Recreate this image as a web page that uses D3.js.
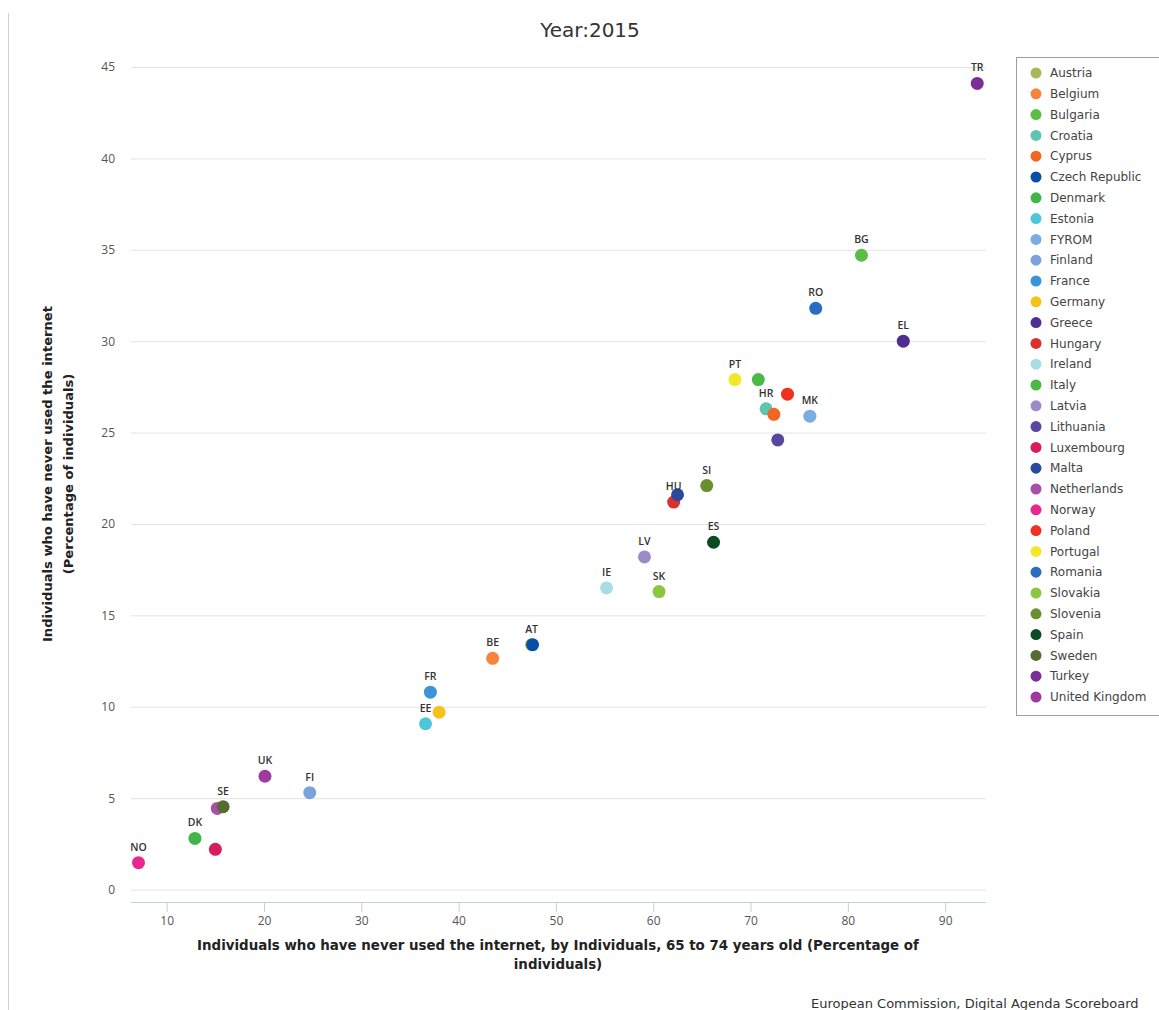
<!DOCTYPE html>
<html>
<head>
<meta charset="utf-8">
<script src="https://cdn.jsdelivr.net/npm/d3@7"></script>
<style>
  html, body { margin: 0; padding: 0; background: #fff; }
  svg { display: block; font-family: "Open Sans", "DejaVu Sans", sans-serif; }
</style>
</head>
<body>
<svg id="chart" width="1159" height="1010"></svg>
<script>
// ---- Data ----
const countries = ["Austria","Belgium","Bulgaria","Croatia","Cyprus","Czech Republic","Denmark","Estonia","FYROM","Finland","France","Germany","Greece","Hungary","Ireland","Italy","Latvia","Lithuania","Luxembourg","Malta","Netherlands","Norway","Poland","Portugal","Romania","Slovakia","Slovenia","Spain","Sweden","Turkey","United Kingdom"];
const codes = ["AT","BE","BG","HR","CY","CZ","DK","EE","MK","FI","FR","DE","EL","HU","IE","IT","LV","LT","LU","MT","NL","NO","PL","PT","RO","SK","SI","ES","SE","TR","UK"];
const xValues = [47.5,43.5,81.4,71.6,72.4,47.6,12.9,36.6,76.1,24.7,37.1,38.0,85.7,62.1,55.2,70.8,59.1,72.8,15.0,62.5,15.2,7.1,73.8,68.4,76.7,60.6,65.5,66.2,15.8,93.3,20.1];
const yValues = [13.4,12.65,34.7,26.3,26.0,13.4,2.8,9.07,25.9,5.3,10.8,9.7,30.0,21.2,16.5,27.9,18.2,24.6,2.2,21.6,4.44,1.47,27.1,27.9,31.8,16.3,22.1,19.0,4.53,44.1,6.2];
const colors = ["#a6b85a","#f5843f","#5bbd45","#5ec4b0","#f26522","#0a4fa6","#42b54a","#4dc6d8","#78aee0","#7ba3db","#3a95d8","#f5c11a","#4b2f91","#d9312b","#a8dde3","#4cb848","#9b8bc8","#5b45a0","#d81d5c","#2c4a9b","#a84fa7","#e8288f","#ef3124","#f2e828","#2a6cc0","#8cc63f","#6b8e2e","#0b4a22","#556b2f","#7d2e96","#9e3a9e"];
const labeledCodes = ["TR","BG","RO","EL","PT","HR","MK","SI","HU","ES","LV","IE","SK","AT","BE","FR","EE","FI","UK","SE","DK","NO"];
const xTicks = [10,20,30,40,50,60,70,80,90];
const yTicks = [0,5,10,15,20,25,30,35,40,45];
const xExtent = [6.33, 94.2];
const yExtent = [-0.68, 45];
const titleText = "Year:2015";
const xTitle = ["Individuals who have never used the internet, by Individuals, 65 to 74 years old (Percentage of", "individuals)"];
const yTitle = ["Individuals who have never used the internet", "(Percentage of individuals)"];
const creditText = "European Commission, Digital Agenda Scoreboard";

// ---- Layout ----
const svg = d3.select("#chart");
const plot = {left: 131, right: 986, top: 67, bottom: 902};
const x = d3.scaleLinear().domain(xExtent).range([plot.left, plot.right]);
const y = d3.scaleLinear().domain(yExtent).range([plot.bottom, plot.top]);

// left border line
svg.append("line").attr("x1", 8.5).attr("x2", 8.5).attr("y1", 13).attr("y2", 1010)
  .attr("stroke", "#d0d0d0").attr("stroke-width", 1);

// title
svg.append("text").attr("x", 590).attr("y", 37).attr("text-anchor", "middle")
  .attr("font-size", 20).attr("fill", "#333").attr("font-family", "'DejaVu Sans', sans-serif")
  .text(titleText);

// y gridlines + labels
const yAxis = d3.axisLeft(y).tickValues(yTicks).tickSize(-(plot.right - plot.left)).tickPadding(16);
const gy = svg.append("g").attr("transform", `translate(${plot.left},0)`).call(yAxis);
gy.select(".domain").remove();
gy.selectAll(".tick line").attr("stroke", "#e3e3e3").attr("stroke-width", 1);
gy.selectAll(".tick text").attr("fill", "#555").attr("font-size", 12)
  .attr("font-family", "'Open Sans', sans-serif");

// x axis
const xAxis = d3.axisBottom(x).tickValues(xTicks).tickSize(10).tickPadding(4);
const gx = svg.append("g").attr("transform", `translate(0,${plot.bottom})`).call(xAxis);
gx.select(".domain").attr("stroke", "#c0d0e0").attr("d", `M${plot.left},0.5H${plot.right}`);
gx.selectAll(".tick line").attr("stroke", "#c0d0e0");
gx.selectAll(".tick text").attr("fill", "#555").attr("font-size", 12)
  .attr("font-family", "'Open Sans', sans-serif");

// axis titles
const xt = svg.append("text").attr("text-anchor", "middle").attr("font-weight", "bold")
  .attr("font-size", 13.4).attr("fill", "#222").attr("font-family", "'DejaVu Sans', sans-serif");
xTitle.forEach((t, i) => xt.append("tspan").attr("x", 558).attr("y", 950 + i * 19).text(t));

const yt = svg.append("text").attr("text-anchor", "middle").attr("font-weight", "bold")
  .attr("font-size", 13.1).attr("fill", "#222").attr("font-family", "'DejaVu Sans', sans-serif")
  .attr("transform", "translate(0,474) rotate(-90)");
yTitle.forEach((t, i) => yt.append("tspan").attr("x", 0).attr("y", 52 + i * 21).text(t));

// points
const data = countries.map((c, i) => ({name: c, code: codes[i], x: xValues[i], y: yValues[i], color: colors[i]}));
svg.append("g").selectAll("circle").data(data).join("circle")
  .attr("cx", d => x(d.x)).attr("cy", d => y(d.y)).attr("r", 6.5)
  .attr("fill", d => d.color);

// data labels
svg.append("g").selectAll("text").data(data.filter(d => labeledCodes.includes(d.code))).join("text")
  .attr("x", d => x(d.x)).attr("y", d => y(d.y) - 12).attr("text-anchor", "middle")
  .attr("font-size", 10.5).attr("font-weight", 600).attr("fill", "#333")
  .text(d => d.code);

// legend
const lg = svg.append("g");
lg.append("rect").attr("x", 1016.5).attr("y", 57.5).attr("width", 150).attr("height", 658)
  .attr("fill", "#fff").attr("stroke", "#a0a0a0").attr("stroke-width", 1);
const items = lg.selectAll("g.item").data(data).join("g").attr("class", "item")
  .attr("transform", (d, i) => `translate(0,${73 + i * 20.8})`);
items.append("circle").attr("cx", 1036).attr("cy", 0).attr("r", 5.5).attr("fill", d => d.color);
items.append("text").attr("x", 1050).attr("y", 0).attr("dy", "0.35em")
  .attr("font-size", 12).attr("fill", "#444").attr("font-family", "'DejaVu Sans', sans-serif")
  .text(d => d.name);

// credits
svg.append("text").attr("x", 811).attr("y", 1008).attr("font-size", 13).attr("fill", "#333")
  .attr("font-family", "'DejaVu Sans', sans-serif")
  .text(creditText);
</script>
</body>
</html>
